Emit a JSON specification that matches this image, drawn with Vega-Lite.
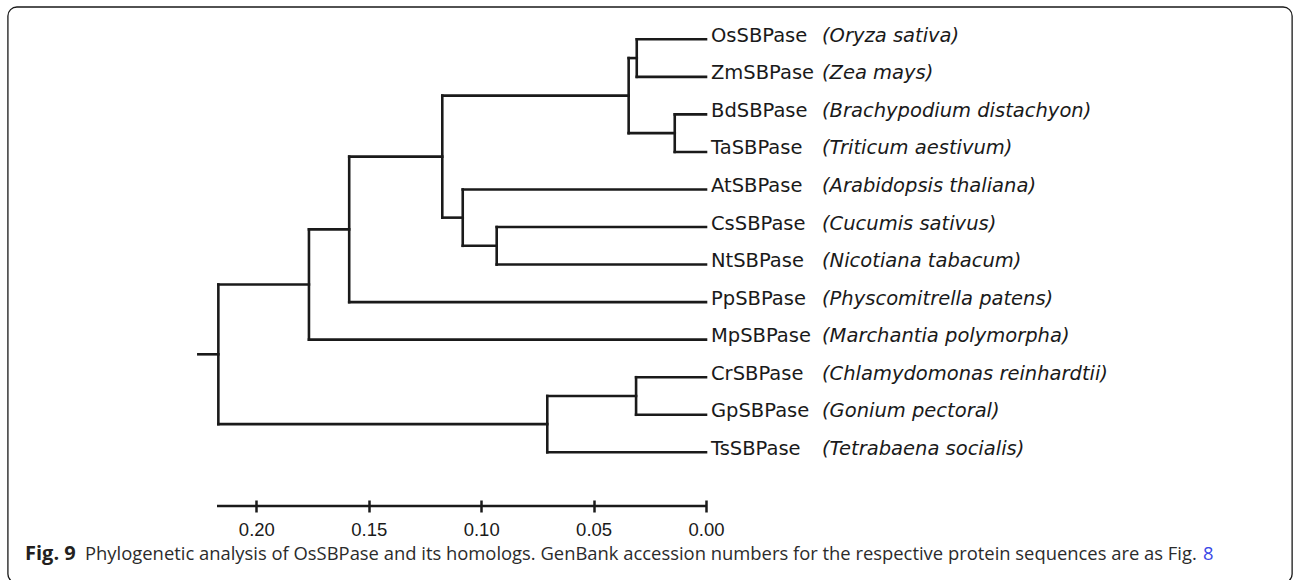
{
  "$schema": "https://vega.github.io/schema/vega-lite/v6.json",
  "autosize": {"type": "none"},
  "width": 1295,
  "height": 500,
  "padding": {"left": 0, "top": 0, "right": 0, "bottom": 80},
  "background": "white",
  "config": {
    "view": {"stroke": null},
    "axisX": {
      "domain": false, "grid": false, "ticks": true, "tickSize": 12, "tickWidth": 2.5, "tickColor": "#1a1a1a",
      "labelFont": "Liberation Sans", "labelFontSize": 18.5, "labelColor": "#1a1a1a",
      "labelPadding": 23, "labelBaseline": "alphabetic", "labelFlush": false, "labelOverlap": false
    }
  },
  "datasets": {
    "edges": [
      {"x": 0.2258, "x2": 0.2169, "y": 8.39, "y2": 8.39},
      {"x": 0.2169, "x2": 0.2169, "y": 6.53, "y2": 10.25},
      {"x": 0.2169, "x2": 0.1766, "y": 6.53, "y2": 6.53},
      {"x": 0.2169, "x2": 0.0706, "y": 10.25, "y2": 10.25},
      {"x": 0.1766, "x2": 0.1766, "y": 5.0625, "y2": 8},
      {"x": 0.1766, "x2": 0.1587, "y": 5.0625, "y2": 5.0625},
      {"x": 0.1766, "x2": 0, "y": 8, "y2": 8},
      {"x": 0.1587, "x2": 0.1587, "y": 3.125, "y2": 7},
      {"x": 0.1587, "x2": 0.1173, "y": 3.125, "y2": 3.125},
      {"x": 0.1587, "x2": 0, "y": 7, "y2": 7},
      {"x": 0.1173, "x2": 0.1173, "y": 1.5, "y2": 4.75},
      {"x": 0.1173, "x2": 0.0344, "y": 1.5, "y2": 1.5},
      {"x": 0.1173, "x2": 0.1082, "y": 4.75, "y2": 4.75},
      {"x": 0.0344, "x2": 0.0344, "y": 0.5, "y2": 2.5},
      {"x": 0.0344, "x2": 0.0308, "y": 0.5, "y2": 0.5},
      {"x": 0.0344, "x2": 0.0139, "y": 2.5, "y2": 2.5},
      {"x": 0.0308, "x2": 0.0308, "y": 0, "y2": 1},
      {"x": 0.0308, "x2": 0, "y": 0, "y2": 0},
      {"x": 0.0308, "x2": 0, "y": 1, "y2": 1},
      {"x": 0.0139, "x2": 0.0139, "y": 2, "y2": 3},
      {"x": 0.0139, "x2": 0, "y": 2, "y2": 2},
      {"x": 0.0139, "x2": 0, "y": 3, "y2": 3},
      {"x": 0.1082, "x2": 0.1082, "y": 4, "y2": 5.5},
      {"x": 0.1082, "x2": 0, "y": 4, "y2": 4},
      {"x": 0.1082, "x2": 0.0931, "y": 5.5, "y2": 5.5},
      {"x": 0.0931, "x2": 0.0931, "y": 5, "y2": 6},
      {"x": 0.0931, "x2": 0, "y": 5, "y2": 5},
      {"x": 0.0931, "x2": 0, "y": 6, "y2": 6},
      {"x": 0.0706, "x2": 0.0706, "y": 9.5, "y2": 11},
      {"x": 0.0706, "x2": 0.0311, "y": 9.5, "y2": 9.5},
      {"x": 0.0706, "x2": 0, "y": 11, "y2": 11},
      {"x": 0.0311, "x2": 0.0311, "y": 9, "y2": 10},
      {"x": 0.0311, "x2": 0, "y": 9, "y2": 9},
      {"x": 0.0311, "x2": 0, "y": 10, "y2": 10}
    ],
    "leaves": [
      {"i": 0, "code": "OsSBPase", "species": "(Oryza sativa)"},
      {"i": 1, "code": "ZmSBPase", "species": "(Zea mays)"},
      {"i": 2, "code": "BdSBPase", "species": "(Brachypodium  distachyon)"},
      {"i": 3, "code": "TaSBPase", "species": "(Triticum aestivum)"},
      {"i": 4, "code": "AtSBPase", "species": "(Arabidopsis thaliana)"},
      {"i": 5, "code": "CsSBPase", "species": "(Cucumis sativus)"},
      {"i": 6, "code": "NtSBPase", "species": "(Nicotiana tabacum)"},
      {"i": 7, "code": "PpSBPase", "species": "(Physcomitrella patens)"},
      {"i": 8, "code": "MpSBPase", "species": "(Marchantia polymorpha)"},
      {"i": 9, "code": "CrSBPase", "species": "(Chlamydomonas reinhardtii)"},
      {"i": 10, "code": "GpSBPase", "species": "(Gonium pectoral)"},
      {"i": 11, "code": "TsSBPase", "species": "(Tetrabaena socialis)"}
    ],
    "scalebar": [{"from": 0.2175, "to": 0, "i": 12.43}],
    "frame": [{"x": 0.3105, "x2": -0.2607, "y": -0.86, "y2": 14.48}],
    "caption_bold": [{"d": 0.3029, "i": 13.87, "text": "Fig. 9"}],
    "caption_main": [{"d": 0.2762, "i": 13.87, "text": "Phylogenetic analysis of OsSBPase and its homologs. GenBank accession numbers for the respective protein sequences are as Fig."}],
    "caption_link": [{"d": -0.2211, "i": 13.87, "text": "8"}]
  },
  "layer": [
    {
      "data": {"name": "frame"},
      "mark": {"type": "rect", "filled": false, "stroke": "#1a1a1a", "strokeWidth": 1.3, "cornerRadius": 9},
      "encoding": {
        "x": {"field": "x", "type": "quantitative", "scale": {"domain": [0, 0.2175], "range": [706, 217], "zero": false, "nice": false},
              "axis": {"values": [0, 0.05, 0.1, 0.15, 0.2], "format": ".2f", "title": null}},
        "x2": {"field": "x2"},
        "y": {"field": "y", "type": "quantitative", "scale": {"domain": [0, 11], "range": [39.3, 452.3], "zero": false, "nice": false}, "axis": null},
        "y2": {"field": "y2"}
      }
    },
    {
      "data": {"name": "edges"},
      "mark": {"type": "rule", "stroke": "#1a1a1a", "strokeWidth": 2.6, "strokeCap": "square"},
      "encoding": {
        "x": {"field": "x", "type": "quantitative", "axis": {"title": null}},
        "x2": {"field": "x2"},
        "y": {"field": "y", "type": "quantitative", "axis": null},
        "y2": {"field": "y2"}
      }
    },
    {
      "data": {"name": "scalebar"},
      "mark": {"type": "rule", "stroke": "#1a1a1a", "strokeWidth": 2.6},
      "encoding": {
        "x": {"field": "from", "type": "quantitative", "axis": {"title": null}},
        "x2": {"field": "to"},
        "y": {"field": "i", "type": "quantitative", "axis": null}
      }
    },
    {
      "data": {"name": "leaves"},
      "mark": {"type": "text", "align": "left", "baseline": "alphabetic", "dx": 5, "dy": 2.5, "font": "DejaVu Sans", "fontSize": 19.5, "fill": "#1a1a1a"},
      "encoding": {
        "x": {"datum": 0, "type": "quantitative", "axis": {"title": null}},
        "y": {"field": "i", "type": "quantitative", "axis": null},
        "text": {"field": "code"}
      }
    },
    {
      "data": {"name": "leaves"},
      "mark": {"type": "text", "align": "left", "baseline": "alphabetic", "dx": 116, "dy": 2.5, "font": "DejaVu Sans", "fontStyle": "italic", "fontSize": 19.5, "fill": "#1a1a1a"},
      "encoding": {
        "x": {"datum": 0, "type": "quantitative", "axis": {"title": null}},
        "y": {"field": "i", "type": "quantitative", "axis": null},
        "text": {"field": "species"}
      }
    },
    {
      "data": {"name": "caption_bold"},
      "mark": {"type": "text", "align": "left", "baseline": "alphabetic", "font": "Open Sans", "fontWeight": "bold", "fontSize": 20, "fill": "#231f20"},
      "encoding": {
        "x": {"field": "d", "type": "quantitative", "axis": {"title": null}},
        "y": {"field": "i", "type": "quantitative", "axis": null},
        "text": {"field": "text"}
      }
    },
    {
      "data": {"name": "caption_main"},
      "mark": {"type": "text", "align": "left", "baseline": "alphabetic", "font": "Open Sans", "fontSize": 18.4, "fill": "#2b2b2b"},
      "encoding": {
        "x": {"field": "d", "type": "quantitative", "axis": {"title": null}},
        "y": {"field": "i", "type": "quantitative", "axis": null},
        "text": {"field": "text"}
      }
    },
    {
      "data": {"name": "caption_link"},
      "mark": {"type": "text", "align": "left", "baseline": "alphabetic", "font": "Open Sans", "fontSize": 18.4, "fill": "#3b48e6"},
      "encoding": {
        "x": {"field": "d", "type": "quantitative", "axis": {"title": null}},
        "y": {"field": "i", "type": "quantitative", "axis": null},
        "text": {"field": "text"}
      }
    }
  ]
}
